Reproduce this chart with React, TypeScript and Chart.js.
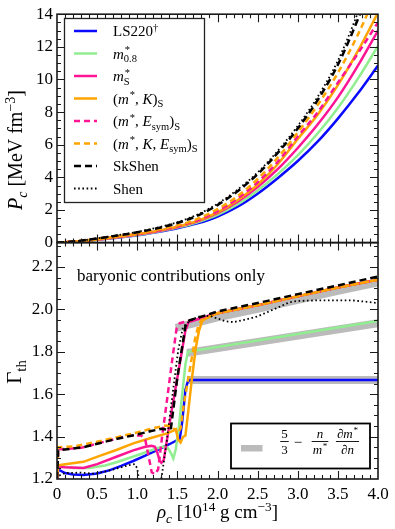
import { useEffect, useRef } from 'react';
import { Chart, registerables } from 'chart.js';

Chart.register(...registerables);

const SERIF = '"Liberation Serif", "Times New Roman", Times, serif';

// ---------- top panel: P_c [MeV fm^-3] vs rho_c ----------
const rhoGrid = [0, 0.25, 0.5, 0.75, 1.0, 1.25, 1.5, 1.75, 2.0, 2.25, 2.5, 2.75, 3.0, 3.25, 3.5, 3.75, 4.0];
const pLS220 = [0, 0.06, 0.17, 0.3, 0.45, 0.65, 0.88, 1.18, 1.6, 2.2, 3.0, 3.95, 5.0, 6.2, 7.6, 9.15, 10.85];
const pM08 = [0, 0.06, 0.18, 0.31, 0.47, 0.67, 0.92, 1.25, 1.7, 2.35, 3.2, 4.2, 5.35, 6.7, 8.25, 10.05, 12.05];
const pMS = [0, 0.07, 0.19, 0.33, 0.5, 0.7, 0.96, 1.3, 1.8, 2.5, 3.4, 4.5, 5.8, 7.25, 8.9, 10.85, 13.0];
const pMK = [0, 0.07, 0.19, 0.34, 0.51, 0.72, 0.98, 1.33, 1.85, 2.6, 3.55, 4.8, 6.35, 7.85, 9.65, 11.75, 14.1];
const pME = [0, 0.07, 0.2, 0.35, 0.52, 0.74, 1.0, 1.37, 1.92, 2.7, 3.7, 4.95, 6.5, 8.0, 9.8, 11.6, 13.5];
const pMKE = [0, 0.08, 0.21, 0.37, 0.55, 0.78, 1.05, 1.45, 2.05, 2.85, 3.9, 5.2, 6.75, 8.45, 10.4, 12.75, 15.5];
const pSkShen = [0, 0.09, 0.25, 0.43, 0.63, 0.88, 1.2, 1.65, 2.3, 3.15, 4.2, 5.5, 7.0, 8.75, 10.9, 13.7, 17.0];
const pShen = [0, 0.09, 0.26, 0.45, 0.66, 0.92, 1.25, 1.72, 2.38, 3.25, 4.3, 5.62, 7.15, 8.95, 11.15, 14.1, 17.5];

// ---------- bottom panel: Gamma_th vs rho_c, [rho, Gamma] ----------
const gLS220 = [[0, 1.2], [0.015, 1.245], [0.1, 1.228], [0.2, 1.221], [0.33, 1.219], [0.5, 1.226], [0.66, 1.242], [0.8, 1.262], [0.95, 1.285], [1.1, 1.31], [1.28, 1.342], [1.4, 1.364], [1.5, 1.384], [1.53, 1.39], [1.56, 1.47], [1.6, 1.62], [1.63, 1.66], [1.66, 1.667], [4.0, 1.667]];
const gM08 = [[0, 1.2], [0.015, 1.265], [0.1, 1.258], [0.2, 1.252], [0.4, 1.252], [0.6, 1.264], [0.75, 1.28], [1.0, 1.312], [1.25, 1.345], [1.33, 1.353], [1.38, 1.347], [1.42, 1.322], [1.45, 1.297], [1.48, 1.34], [1.52, 1.45], [1.56, 1.6], [1.6, 1.74], [1.63, 1.8], [4.0, 1.945]];
const gMS = [[0, 1.2], [0.015, 1.258], [0.1, 1.255], [0.33, 1.252], [0.5, 1.27], [0.74, 1.305], [0.95, 1.335], [1.1, 1.352], [1.18, 1.357], [1.22, 1.352], [1.25, 1.325], [1.28, 1.285], [1.3, 1.276], [1.33, 1.29], [1.36, 1.36], [1.43, 1.525], [1.53, 1.744], [1.6, 1.9], [1.64, 1.94], [2.0, 1.982], [2.5, 2.02], [3.0, 2.062], [3.5, 2.103], [4.0, 2.14]];
const gMK = [[0, 1.2], [0.015, 1.265], [0.1, 1.27], [0.33, 1.281], [0.54, 1.31], [0.74, 1.337], [0.95, 1.368], [1.16, 1.392], [1.37, 1.415], [1.45, 1.428], [1.48, 1.435], [1.51, 1.385], [1.54, 1.372], [1.57, 1.398], [1.6, 1.405], [1.63, 1.5], [1.68, 1.67], [1.73, 1.82], [1.77, 1.9], [1.81, 1.945], [1.86, 1.958], [2.0, 1.982], [2.5, 2.02], [3.0, 2.062], [3.5, 2.103], [4.0, 2.14]];
const gME = [[0, 1.2], [0.015, 1.34], [0.3, 1.347], [0.6, 1.377], [0.9, 1.405], [1.05, 1.405], [1.1, 1.385], [1.14, 1.31], [1.18, 1.232], [1.22, 1.222], [1.26, 1.245], [1.31, 1.4], [1.37, 1.57], [1.43, 1.745], [1.49, 1.91], [1.53, 1.935], [1.6, 1.942], [2.0, 1.982], [2.5, 2.02], [3.0, 2.062], [3.5, 2.103], [4.0, 2.14]];
const gMKE = [[0, 1.2], [0.015, 1.35], [0.2, 1.353], [0.5, 1.376], [0.75, 1.397], [1.0, 1.42], [1.2, 1.44], [1.35, 1.452], [1.42, 1.45], [1.47, 1.432], [1.51, 1.415], [1.54, 1.44], [1.58, 1.55], [1.62, 1.64], [1.67, 1.75], [1.72, 1.86], [1.76, 1.92], [1.8, 1.95], [2.0, 1.982], [2.5, 2.02], [3.0, 2.062], [3.5, 2.103], [4.0, 2.14]];
const gSkShen = [[0, 1.2], [0.015, 1.335], [0.33, 1.35], [0.54, 1.37], [0.75, 1.39], [1.0, 1.41], [1.16, 1.425], [1.3, 1.437], [1.38, 1.432], [1.42, 1.44], [1.46, 1.56], [1.5, 1.68], [1.55, 1.8], [1.6, 1.92], [1.65, 1.948], [2.0, 1.99], [2.5, 2.03], [3.0, 2.072], [3.5, 2.113], [4.0, 2.155]];
const gShen = [[0, 1.2], [0.02, 1.215], [0.1, 1.228], [0.3, 1.23], [0.45, 1.225], [0.6, 1.235], [0.75, 1.25], [0.9, 1.266], [0.97, 1.27], [1.0, 1.25], [1.04, 1.15], [1.29, 1.15], [1.3, 1.2], [1.37, 1.384], [1.43, 1.57], [1.51, 1.807], [1.57, 1.917], [1.64, 1.94], [1.75, 1.965], [1.9, 1.97], [2.0, 1.957], [2.1, 1.944], [2.2, 1.94], [2.35, 1.952], [2.5, 1.967], [2.7, 2.0], [2.9, 2.034], [3.0, 2.04], [3.3, 2.043], [3.7, 2.042], [4.0, 2.03]];

// 5/3 - (n/m*) dm*/dn bands
const bandS = [[1.48, 1.913], [2.0, 1.962], [2.5, 2.003], [3.0, 2.045], [3.5, 2.087], [4.0, 2.127]];
const bandM08 = [[1.62, 1.795], [4.0, 1.935]];
const bandLS = [[1.62, 1.667], [4.0, 1.667]];

// ticks
const xTicks = [0, 0.5, 1, 1.5, 2, 2.5, 3, 3.5, 4];
const xTickLabels = ['0', '0.5', '1.0', '1.5', '2.0', '2.5', '3.0', '3.5', '4.0'];
const pTicks = [0, 2, 4, 6, 8, 10, 12, 14];
const pTickLabels = ['0', '2', '4', '6', '8', '10', '12', '14'];
const gTicks = [1.2, 1.4, 1.6, 1.8, 2.0, 2.2];
const gTickLabels = ['1.2', '1.4', '1.6', '1.8', '2.0', '2.2'];

const topSeries = [pLS220, pM08, pMS, pMK, pME, pMKE, pSkShen, pShen];
const botSeries = [gLS220, gM08, gMS, gMK, gME, gMKE, gSkShen, gShen];
const bands = [bandS, bandM08, bandLS];

const styles = [
  { color: '#0a0aff', dash: [] as number[], width: 2.5 },
  { color: '#90ee90', dash: [] as number[], width: 2.5 },
  { color: '#ff1493', dash: [] as number[], width: 2.5 },
  { color: '#ffa500', dash: [] as number[], width: 2.5 },
  { color: '#ff1493', dash: [6, 4], width: 2.5 },
  { color: '#ffa500', dash: [6, 4], width: 2.5 },
  { color: '#000000', dash: [7, 4], width: 2.5 },
  { color: '#000000', dash: [1.6, 2.6], width: 1.8 },
];
const BAND_COLOR = '#bbbbbb';

type Seg = { t?: string; it?: boolean; sup?: string; sub?: string; supIt?: boolean; subIt?: boolean };

const legendLabels: Seg[][] = [
  [{ t: 'LS220', sup: '†' }],
  [{ t: 'm', it: true, sup: '*', sub: '0.8' }],
  [{ t: 'm', it: true, sup: '*', sub: 'S' }],
  [{ t: '(' }, { t: 'm', it: true, sup: '*' }, { t: ', ' }, { t: 'K', it: true }, { t: ')', sub: 'S' }],
  [{ t: '(' }, { t: 'm', it: true, sup: '*' }, { t: ', ' }, { t: 'E', it: true, sub: 'sym' }, { t: ')', sub: 'S' }],
  [{ t: '(' }, { t: 'm', it: true, sup: '*' }, { t: ', ' }, { t: 'K', it: true }, { t: ', ' }, { t: 'E', it: true, sub: 'sym' }, { t: ')', sub: 'S' }],
  [{ t: 'SkShen' }],
  [{ t: 'Shen' }],
];

function fontStr(size: number, it?: boolean) {
  return `${it ? 'italic ' : ''}${size}px ${SERIF}`;
}

function runRich(ctx: CanvasRenderingContext2D, segs: Seg[], size: number, x0: number, y0: number, draw: boolean) {
  let x = x0;
  const ss = size * 0.7;
  for (const s of segs) {
    if (s.t) {
      ctx.font = fontStr(size, s.it);
      if (draw) ctx.fillText(s.t, x, y0);
      x += ctx.measureText(s.t).width;
    }
    let w = 0;
    if (s.sup) {
      ctx.font = fontStr(ss, s.supIt);
      const xo = s.it ? size * 0.06 : 0;
      if (draw) ctx.fillText(s.sup, x + xo, y0 - size * 0.36);
      w = Math.max(w, ctx.measureText(s.sup).width + xo);
    }
    if (s.sub) {
      ctx.font = fontStr(ss, s.subIt);
      if (draw) ctx.fillText(s.sub, x, y0 + size * 0.24);
      w = Math.max(w, ctx.measureText(s.sub).width);
    }
    x += w;
  }
  return x - x0;
}

function drawRich(ctx: CanvasRenderingContext2D, segs: Seg[], x: number, y: number, size: number, align: 'left' | 'center' = 'left') {
  ctx.textAlign = 'left';
  ctx.textBaseline = 'alphabetic';
  const w = runRich(ctx, segs, size, 0, 0, false);
  const sx = align === 'center' ? x - w / 2 : x;
  runRich(ctx, segs, size, sx, y, true);
  return w;
}

function drawFrac(ctx: CanvasRenderingContext2D, num: Seg[], den: Seg[], cx: number, barY: number, size: number) {
  const wn = runRich(ctx, num, size, 0, 0, false);
  const wd = runRich(ctx, den, size, 0, 0, false);
  const w = Math.max(wn, wd) + 2;
  drawRich(ctx, num, cx, barY - 3.5, size, 'center');
  drawRich(ctx, den, cx, barY + size * 0.95, size, 'center');
  ctx.beginPath();
  ctx.lineWidth = 0.9;
  ctx.strokeStyle = '#000';
  ctx.moveTo(cx - w / 2, barY);
  ctx.lineTo(cx + w / 2, barY);
  ctx.stroke();
}

const decorPlugin = {
  id: 'decor',
  afterDraw(chart: any) {
    const ctx: CanvasRenderingContext2D = chart.ctx;
    const xs = chart.scales.x;
    const yP = chart.scales.yP;
    const yG = chart.scales.yG;
    const left = chart.chartArea.left;
    const right = chart.chartArea.right;
    ctx.save();
    ctx.strokeStyle = '#1a1a1a';
    ctx.fillStyle = '#000';

    const panels = [
      { sc: yP, minorStep: 0.5, majorEvery: 4, n: 28, v0: 0 },
      { sc: yG, minorStep: 0.05, majorEvery: 4, n: 22, v0: 1.2 },
    ];
    for (const p of panels) {
      const top = p.sc.top;
      const bottom = p.sc.bottom;
      // x ticks
      ctx.lineWidth = 1.1;
      for (let i = 1; i < 40; i++) {
        const px = Math.round(xs.getPixelForValue(i / 10)) + 0.5;
        const len = i % 5 === 0 ? 8 : 4;
        ctx.beginPath();
        ctx.moveTo(px, bottom);
        ctx.lineTo(px, bottom - len);
        ctx.moveTo(px, top);
        ctx.lineTo(px, top + len);
        ctx.stroke();
      }
      for (let i = 1; i <= p.n; i++) {
        const v = p.v0 + i * p.minorStep;
        const py = Math.round(p.sc.getPixelForValue(v)) + 0.5;
        if (py <= top + 1 || py >= bottom - 1) continue;
        const len = i % p.majorEvery === 0 ? 8 : 4;
        ctx.beginPath();
        ctx.moveTo(left, py);
        ctx.lineTo(left + len, py);
        ctx.moveTo(right, py);
        ctx.lineTo(right - len, py);
        ctx.stroke();
      }
      ctx.lineWidth = 1.6;
      ctx.strokeRect(left, top, right - left, bottom - top);
    }

    // top legend
    ctx.fillStyle = '#fff';
    ctx.fillRect(64, 18, 140, 184);
    ctx.lineWidth = 1.3;
    ctx.strokeStyle = '#222';
    ctx.strokeRect(64.5, 18.5, 140, 184);
    legendLabels.forEach((lab, i) => {
      const y = 31 + i * 22.5;
      const st = styles[i];
      ctx.beginPath();
      ctx.setLineDash(st.dash);
      ctx.lineWidth = st.width;
      ctx.strokeStyle = st.color;
      ctx.moveTo(74, y);
      ctx.lineTo(97, y);
      ctx.stroke();
      ctx.setLineDash([]);
      ctx.fillStyle = '#000';
      drawRich(ctx, lab, 113, y + 5, 15);
    });

    // annotation
    ctx.fillStyle = '#000';
    ctx.font = fontStr(17);
    ctx.textAlign = 'left';
    ctx.textBaseline = 'alphabetic';
    ctx.fillText('baryonic contributions only', 77, 281);

    // bottom legend
    ctx.fillStyle = '#fff';
    ctx.fillRect(231, 423.5, 139, 45);
    ctx.lineWidth = 1.8;
    ctx.strokeStyle = '#000';
    ctx.strokeRect(231, 423.5, 139, 45);
    ctx.fillStyle = BAND_COLOR;
    ctx.fillRect(241, 445, 21.5, 6.5);
    ctx.fillStyle = '#000';
    drawFrac(ctx, [{ t: '5' }], [{ t: '3' }], 284.5, 441.5, 13);
    drawRich(ctx, [{ t: '−' }], 298, 446.5, 15, 'center');
    drawFrac(ctx, [{ t: 'n', it: true }], [{ t: 'm', it: true, sup: '*' }], 320, 441.5, 13);
    drawFrac(ctx, [{ t: '∂' }, { t: 'm', it: true, sup: '*' }], [{ t: '∂' }, { t: 'n', it: true }], 347.5, 441.5, 13);

    // axis titles
    ctx.fillStyle = '#000';
    ctx.save();
    ctx.translate(22, 150);
    ctx.rotate(-Math.PI / 2);
    drawRich(ctx, [{ t: 'P', it: true, sub: 'c', subIt: true }, { t: ' [MeV fm', sup: '−3' }, { t: ']' }], 0, 0, 20, 'center');
    ctx.restore();
    ctx.save();
    ctx.translate(21, 372);
    ctx.rotate(-Math.PI / 2);
    drawRich(ctx, [{ t: 'Γ', sub: 'th' }], 0, 0, 21, 'center');
    ctx.restore();
    drawRich(ctx, [{ t: 'ρ', it: true, sub: 'c', subIt: true }, { t: ' [10', sup: '14' }, { t: ' g cm', sup: '−3' }, { t: ']' }], 217.5, 518, 19, 'center');
    ctx.restore();
  },
};

function buildDatasets() {
  const ds: any[] = [];
  bands.forEach((b) => {
    ds.push({
      data: b.map(([x, y]) => ({ x, y })),
      yAxisID: 'yG',
      borderColor: BAND_COLOR,
      borderWidth: 8,
      borderCapStyle: 'butt',
      pointRadius: 0,
      tension: 0,
      fill: false,
      order: 100,
      clip: 0,
    });
  });
  topSeries.forEach((s, i) => {
    ds.push({
      data: rhoGrid.map((x, j) => ({ x, y: s[j] })),
      yAxisID: 'yP',
      borderColor: styles[i].color,
      borderWidth: styles[i].width,
      borderDash: styles[i].dash,
      borderCapStyle: 'butt',
      pointRadius: 0,
      cubicInterpolationMode: 'monotone',
      fill: false,
      order: 50 - i,
      clip: 0,
    });
  });
  botSeries.forEach((s, i) => {
    ds.push({
      data: s.map(([x, y]) => ({ x, y })),
      yAxisID: 'yG',
      borderColor: styles[i].color,
      borderWidth: styles[i].width,
      borderDash: styles[i].dash,
      borderCapStyle: 'butt',
      borderJoinStyle: 'miter',
      pointRadius: 0,
      tension: 0,
      fill: false,
      order: 50 - i,
      clip: 0,
    });
  });
  return ds;
}

const tickFont = { family: SERIF, size: 17 };

export default function App() {
  const ref = useRef<HTMLCanvasElement>(null);
  useEffect(() => {
    const chart = new Chart(ref.current as HTMLCanvasElement, {
      type: 'line',
      data: { datasets: buildDatasets() },
      options: {
        responsive: false,
        animation: false,
        events: [],
        layout: { padding: { top: 13, right: 17, left: 0, bottom: 0 } },
        plugins: { legend: { display: false }, tooltip: { enabled: false } },
        scales: {
          x: {
            type: 'linear',
            position: 'bottom',
            min: 0,
            max: 4,
            grid: { display: false, drawTicks: false },
            border: { display: false },
            afterBuildTicks: (s: any) => {
              s.ticks = xTicks.map((v) => ({ value: v }));
            },
            ticks: {
              font: tickFont,
              color: '#000',
              padding: 5,
              maxRotation: 0,
              autoSkip: false,
              callback: (v: any) => xTickLabels[xTicks.indexOf(Number(v))] ?? '',
            },
            afterFit: (s: any) => {
              s.height = 50;
            },
          },
          yP: {
            type: 'linear',
            position: 'left',
            stack: 'panels',
            stackWeight: 229,
            weight: 2,
            min: 0,
            max: 14,
            grid: { display: false, drawTicks: false },
            border: { display: false },
            afterBuildTicks: (s: any) => {
              s.ticks = pTicks.map((v) => ({ value: v }));
            },
            ticks: {
              font: tickFont,
              color: '#000',
              padding: 4,
              autoSkip: false,
              callback: (v: any) => pTickLabels[pTicks.indexOf(Number(v))] ?? '',
            },
            afterFit: (s: any) => {
              s.width = 57;
            },
          },
          yG: {
            type: 'linear',
            position: 'left',
            stack: 'panels',
            stackWeight: 237,
            weight: 1,
            min: 1.2,
            max: 2.315,
            grid: { display: false, drawTicks: false },
            border: { display: false },
            afterBuildTicks: (s: any) => {
              s.ticks = gTicks.map((v) => ({ value: v }));
            },
            ticks: {
              font: tickFont,
              color: '#000',
              padding: 4,
              autoSkip: false,
              callback: (v: any) => {
                const k = gTicks.findIndex((t) => Math.abs(t - Number(v)) < 1e-6);
                return k >= 0 ? gTickLabels[k] : '';
              },
            },
            afterFit: (s: any) => {
              s.width = 57;
            },
          },
        },
      } as any,
      plugins: [decorPlugin],
    });
    return () => chart.destroy();
  }, []);
  return (
    <div style={{ position: 'absolute', left: 0, top: 0, width: 395, height: 529, background: '#fff' }}>
      <canvas ref={ref} width={395} height={529} style={{ width: 395, height: 529, display: 'block' }} />
    </div>
  );
}
